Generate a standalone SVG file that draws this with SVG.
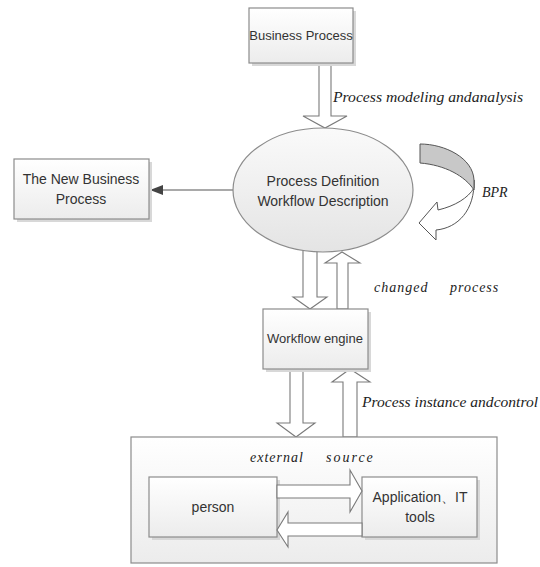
<svg xmlns="http://www.w3.org/2000/svg" width="540" height="567" viewBox="0 0 540 567">
<defs>
<linearGradient id="boxg" x1="0" y1="0" x2="0" y2="1">
<stop offset="0" stop-color="#ffffff"/>
<stop offset="1" stop-color="#ececec"/>
</linearGradient>
<linearGradient id="ellg" x1="0" y1="0" x2="0" y2="1">
<stop offset="0" stop-color="#fafafa"/>
<stop offset="1" stop-color="#e4e4e4"/>
</linearGradient>
<marker id="tri" markerWidth="14" markerHeight="10" refX="13" refY="5" orient="auto" markerUnits="userSpaceOnUse">
<path d="M0,0 L13,5 L0,10 Z" fill="#444"/>
</marker>
</defs>
<style>
.box{fill:url(#boxg);stroke:#8c8c8c;stroke-width:1.2}
.shadow{fill:#d8d8d8}
.lbl{font-family:"Liberation Sans",Arial,sans-serif;font-size:14px;fill:#333;text-anchor:middle}
.sm{font-size:13px}
.it{font-family:"Liberation Serif","Times New Roman",serif;font-style:italic;font-size:14px;fill:#222}
.blk{fill:#fff;stroke:#7a7a7a;stroke-width:1.1;stroke-linejoin:miter}
</style>
<rect width="540" height="567" fill="#fff"/>

<g id="connectors">
<path class="blk" d="M319,63 L331,63 L331,116 L347,116 L325,128 L303,116 L319,116 Z"/>
<path class="blk" d="M303,244 L317,244 L317,297 L327,297 L310,309 L293,297 L303,297 Z"/>
<path class="blk" d="M337,309 L348,309 L348,263 L360,263 L342,252 L325,263 L337,263 Z"/>
<path class="blk" d="M290,369 L303,369 L303,423 L315,423 L296,437 L277,423 L290,423 Z"/>
<path class="blk" d="M343,437 L357,437 L357,382 L370,382 L350,369 L332,382 L343,382 Z"/>
<line x1="234" y1="190" x2="150" y2="190" stroke="#555" stroke-width="1.2" marker-end="url(#tri)"/>
<path d="M474,180 C475,210 458,228 436,230 L436,240 L419,223 L437,202 L438,210 C455,206 468,198 474,188 Z" fill="#fff" stroke="#555" stroke-width="1"/>
<path d="M420,144 C445,144 473,158 474,180 L474,190 C465,176 445,165 420,163 Z" fill="#c8c8c8" stroke="#555" stroke-width="1"/>
</g>

<g id="business-process">
<rect class="shadow" x="252" y="11" width="104" height="55"/>
<rect class="box" x="249" y="8" width="104" height="55"/>
<text class="lbl sm" x="301" y="40">Business Process</text>
</g>

<g id="process-definition">
<ellipse cx="323" cy="190" rx="90" ry="62" fill="url(#ellg)" stroke="#8c8c8c" stroke-width="1.2"/>
<text class="lbl" x="323" y="186">Process Definition</text>
<text class="lbl" x="323" y="206">Workflow Description</text>
</g>

<g id="new-business-process">
<rect class="shadow" x="17" y="162" width="135" height="60"/>
<rect class="box" x="14" y="159" width="135" height="60"/>
<text class="lbl" x="81" y="184">The New Business</text>
<text class="lbl" x="81" y="204">Process</text>
</g>

<g id="workflow-engine">
<rect class="shadow" x="266" y="312" width="105" height="60"/>
<rect class="box" x="263" y="309" width="105" height="60"/>
<text class="lbl sm" x="315" y="343">Workflow engine</text>
</g>

<g id="external-source">
<rect class="box" x="131" y="437" width="366" height="126" fill="#fff"/>
<text class="it" x="250" y="462" letter-spacing="1">external</text>
<text class="it" x="326" y="462" letter-spacing="2">source</text>
</g>

<g id="person">
<rect class="shadow" x="152" y="480" width="128" height="60"/>
<rect class="box" x="149" y="477" width="128" height="60"/>
<text class="lbl" x="213" y="512">person</text>
</g>

<g id="application">
<rect class="shadow" x="365" y="480" width="115" height="60"/>
<rect class="box" x="362" y="477" width="115" height="60"/>
<text class="lbl" x="420" y="502">Application、IT</text>
<text class="lbl" x="420" y="522">tools</text>
</g>

<g id="inner-connectors">
<path class="blk" d="M277,485 L350,485 L350,470 L362,491 L350,512 L350,498 L277,498 Z"/>
<path class="blk" d="M362,523 L288,523 L288,512 L277,530 L288,547 L288,536 L362,536 Z"/>
</g>

<g id="labels">
<text class="it" x="333" y="102" textLength="190" lengthAdjust="spacingAndGlyphs">Process modeling andanalysis</text>
<text class="it" x="482" y="197">BPR</text>
<text class="it" x="374" y="292" letter-spacing="1">changed</text>
<text class="it" x="450" y="292" letter-spacing="1">process</text>
<text class="it" x="362" y="407" textLength="176" lengthAdjust="spacingAndGlyphs">Process instance andcontrol</text>
</g>
</svg>
